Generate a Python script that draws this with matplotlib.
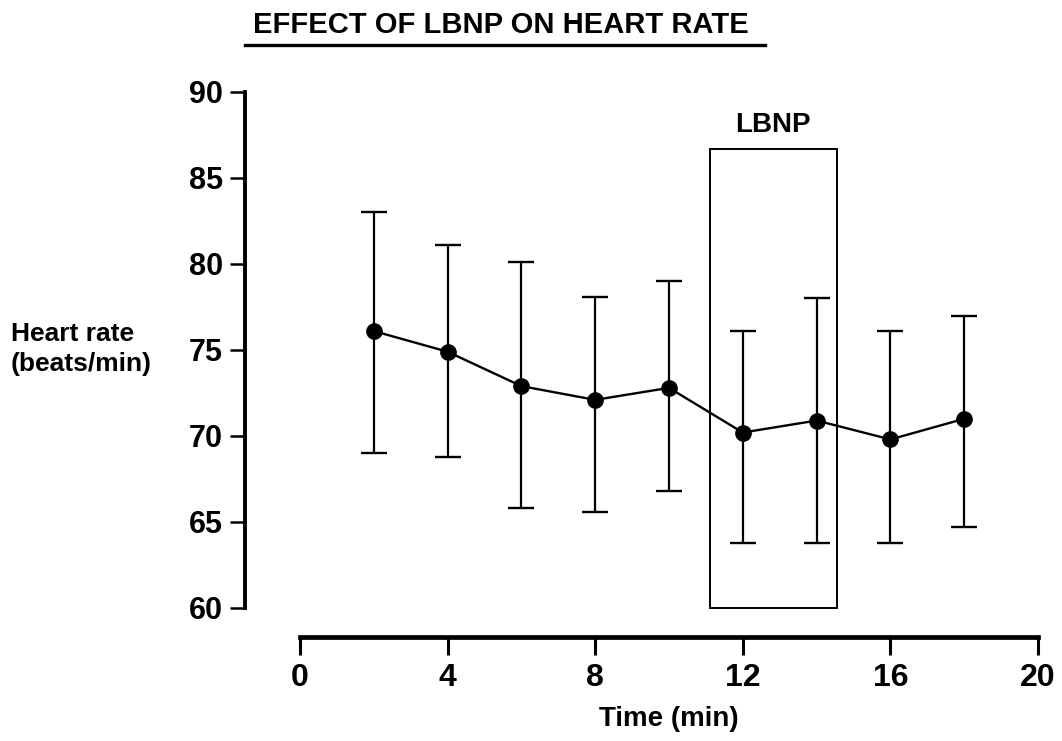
import matplotlib.pyplot as plt
from matplotlib.lines import Line2D
from matplotlib.patches import Rectangle

# data
time = [2, 4, 6, 8, 10, 12, 14, 16, 18]
hr_mean = [76.1, 74.9, 72.9, 72.1, 72.8, 70.2, 70.9, 69.8, 71.0]
hr_upper = [83.0, 81.1, 80.1, 78.1, 79.0, 76.1, 78.0, 76.1, 77.0]
hr_lower = [69.0, 68.8, 65.8, 65.6, 66.8, 63.8, 63.8, 63.8, 64.7]
lbnp_start, lbnp_end, lbnp_top = 11.1, 14.55, 86.7
xticks = [0, 4, 8, 12, 16, 20]
yticks = [60, 65, 70, 75, 80, 85, 90]

plt.rcParams['font.family'] = ['Liberation Sans', 'DejaVu Sans']

W, H = 1062, 741
fig = plt.figure(figsize=(W / 100, H / 100), dpi=100)
ax = fig.add_axes([245 / W, 1 - 637 / H, (1038 - 245) / W, (637 - 92) / H])

x0 = -(300 - 245) / 36.9
ax.set_xlim(x0, 20)
ax.set_ylim(90 - (637 - 92) / 17.2, 90)

err_lo = [m - l for m, l in zip(hr_mean, hr_lower)]
err_hi = [u - m for m, u in zip(hr_mean, hr_upper)]
ax.errorbar(time, hr_mean, yerr=[err_lo, err_hi], fmt='-o', color='black',
            lw=1.7, ms=11, elinewidth=1.6, capsize=9.5, capthick=1.7, zorder=3)

ax.add_patch(Rectangle((lbnp_start, 60), lbnp_end - lbnp_start, lbnp_top - 60,
                       fill=False, ec='black', lw=1.4, zorder=2))
ax.text((lbnp_start + lbnp_end) / 2, lbnp_top + 0.65, 'LBNP', ha='center', va='bottom',
        fontsize=20, fontweight='bold')

for s in ['top', 'right']:
    ax.spines[s].set_visible(False)
ax.spines['left'].set_bounds(60, 90)
ax.spines['left'].set_linewidth(2.8)
ax.spines['bottom'].set_bounds(0, 20)
ax.spines['bottom'].set_linewidth(3.4)

ax.set_yticks(yticks)
ax.set_yticklabels([str(v) for v in yticks], fontsize=22, fontweight='bold')
ax.tick_params(axis='y', length=11, width=1.8, pad=5)
ax.set_xticks(xticks)
ax.set_xticklabels([str(v) for v in xticks], fontsize=23, fontweight='bold')
ax.tick_params(axis='x', length=13, width=2.2, pad=6)

ax.set_xlabel('Time (min)', fontsize=20, fontweight='bold')
ax.xaxis.set_label_coords((669 - 245) / (1038 - 245), -(719 - 637) / (637 - 92))
ax.xaxis.label.set_va('center')

fig.text(11 / W, 1 - 349 / H, 'Heart rate\n(beats/min)', ha='left', va='center',
         fontsize=19, fontweight='bold', linespacing=1.3)

fig.text(501 / W, 1 - 25 / H, 'EFFECT OF LBNP ON HEART RATE', ha='center', va='center',
         fontsize=21, fontweight='bold')
fig.add_artist(Line2D([245 / W, 765 / W], [1 - 45 / H, 1 - 45 / H], color='black', lw=2.4))

fig.savefig('out.png', dpi=100)
